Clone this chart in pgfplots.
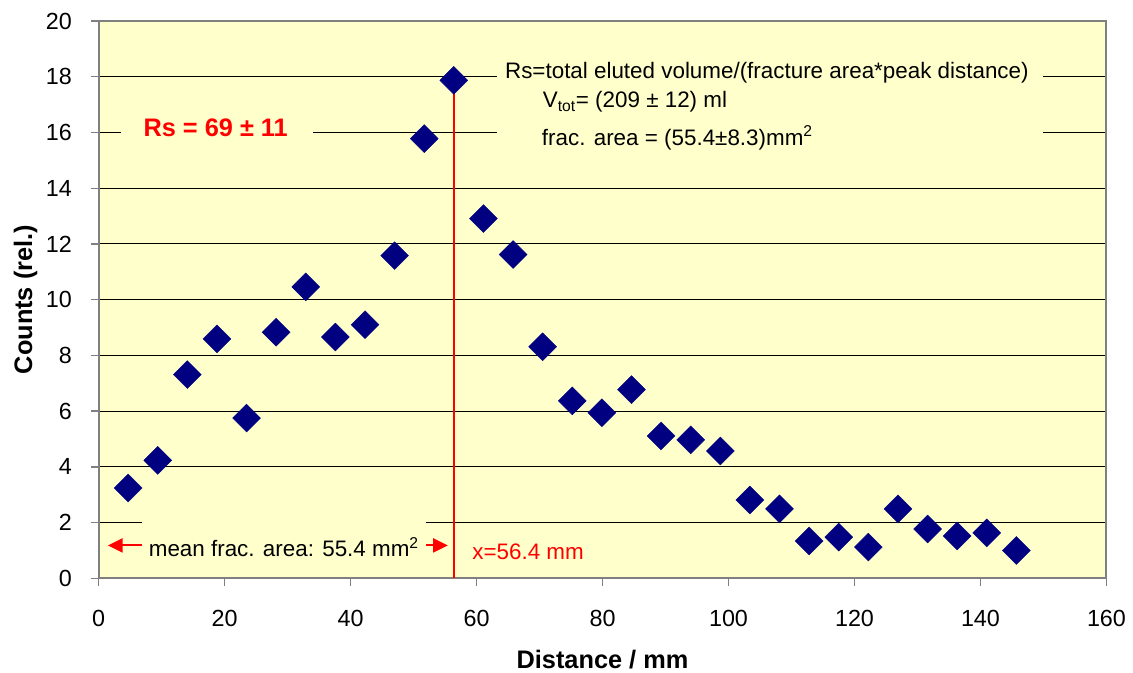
\documentclass[border=0pt]{standalone}
\usepackage{fontspec}
\setmainfont{Liberation Sans}
\usepackage{pgfplots}
\pgfplotsset{compat=1.18}
\usetikzlibrary{arrows.meta}
\definecolor{bgyellow}{RGB}{255,255,204}
\definecolor{navy}{RGB}{0,0,128}
\definecolor{framegray}{RGB}{128,128,128}
\definecolor{myred}{RGB}{255,0,0}
\newcommand{\annot}{\fontsize{16.8}{20}\selectfont}
\newcommand{\biglab}{\fontsize{19}{22}\selectfont\bfseries}

\pgfplotstableread{
x y
4.7 3.24
9.4 4.23
14.1 7.31
18.8 8.59
23.5 5.75
28.2 8.83
32.9 10.46
37.6 8.66
42.3 9.10
47.0 11.58
51.7 15.78
56.4 17.87
61.1 12.91
65.8 11.62
70.5 8.31
75.2 6.37
79.9 5.94
84.6 6.77
89.3 5.11
94.0 4.97
98.7 4.57
103.4 2.81
108.1 2.49
112.8 1.34
117.5 1.48
122.2 1.12
126.9 2.49
131.6 1.77
136.3 1.52
141.0 1.63
145.7 1.00
}\datatable

\begin{document}
\begin{tikzpicture}
\begin{axis}[
 scale only axis, width=756pt, height=418pt,
 xmin=0, xmax=160, ymin=0, ymax=20,
 xtick={0,20,...,160}, ytick={0,2,...,20},
 axis background/.style={fill=bgyellow},
 axis line style={framegray, line width=1.5pt},
 ymajorgrids, major grid style={black, line width=0.7pt},
 tick align=outside, xtick pos=left, ytick pos=left,
 major tick length=5.6pt,
 tick style={framegray, line width=1pt},
 /pgf/number format/assume math mode=true,
 ticklabel style={font=\fontsize{17.5}{20}\selectfont},
 xticklabel style={anchor=north, inner sep=0pt, yshift=-18.3pt},
 yticklabel style={anchor=east, inner sep=0pt, xshift=-14.2pt},
 every axis x label/.style={at={(axis description cs:0.5,-0.161)}, anchor=base, font=\biglab},
 every axis y label/.style={at={(axis description cs:-0.066,0.5)}, anchor=base, rotate=90, font=\biglab},
 xlabel={Distance / mm}, ylabel={Counts (rel.)},
 clip=false,
]
\addplot[draw=myred, line width=1.2pt, mark=none] coordinates {(56.4,0) (56.4,18)};
\draw[draw=myred, line width=1.5pt, {Triangle[length=11pt,width=10.5pt,fill=myred]}-{Triangle[length=11pt,width=10.5pt,fill=myred]}] (axis cs:1.49,1.18) -- (axis cs:55.46,1.18);
\fill[bgyellow] (axis cs:6.98,0.3) rectangle (axis cs:51.94,2.3);
\node[anchor=base west, inner sep=0pt, font=\annot] at (axis cs:7.95,0.77) {mean frac. area: 55.4 mm\textsuperscript{2}};
\node[anchor=base west, inner sep=0pt, font=\annot, text=myred] at (axis cs:59.3,0.68) {x=56.4 mm};
\fill[bgyellow] (axis cs:3.57,15.3) rectangle (axis cs:34.0,16.8);
\node[anchor=base west, inner sep=0pt, font=\biglab, text=myred] at (axis cs:7.11,15.85) {Rs = 69 ± 11};
\fill[bgyellow] (axis cs:63.2,15.2) rectangle (axis cs:149.97,18.7);
\node[anchor=base west, inner sep=0pt, font=\annot] at (axis cs:64.5,17.94) {Rs=total eluted volume/(fracture area*peak distance)};
\node[anchor=base west, inner sep=0pt, font=\annot] at (axis cs:70.5,16.89) {V\textsubscript{tot}= (209 ± 12) ml};
\node[anchor=base west, inner sep=0pt, font=\annot] at (axis cs:70.35,15.54) {frac. area = (55.4±8.3)mm\textsuperscript{2}};
\addplot[only marks, mark=square*, mark size=7.4pt, mark options={rotate=45, fill=navy, draw=navy, line width=0.3pt}] table[x=x,y=y] {\datatable};
\end{axis}
\pgfresetboundingbox
\path ([shift={(-73.9pt,-70.3pt)}]current axis.south west) rectangle ([shift={(19.9pt,15.75pt)}]current axis.north east);
\end{tikzpicture}
\end{document}
